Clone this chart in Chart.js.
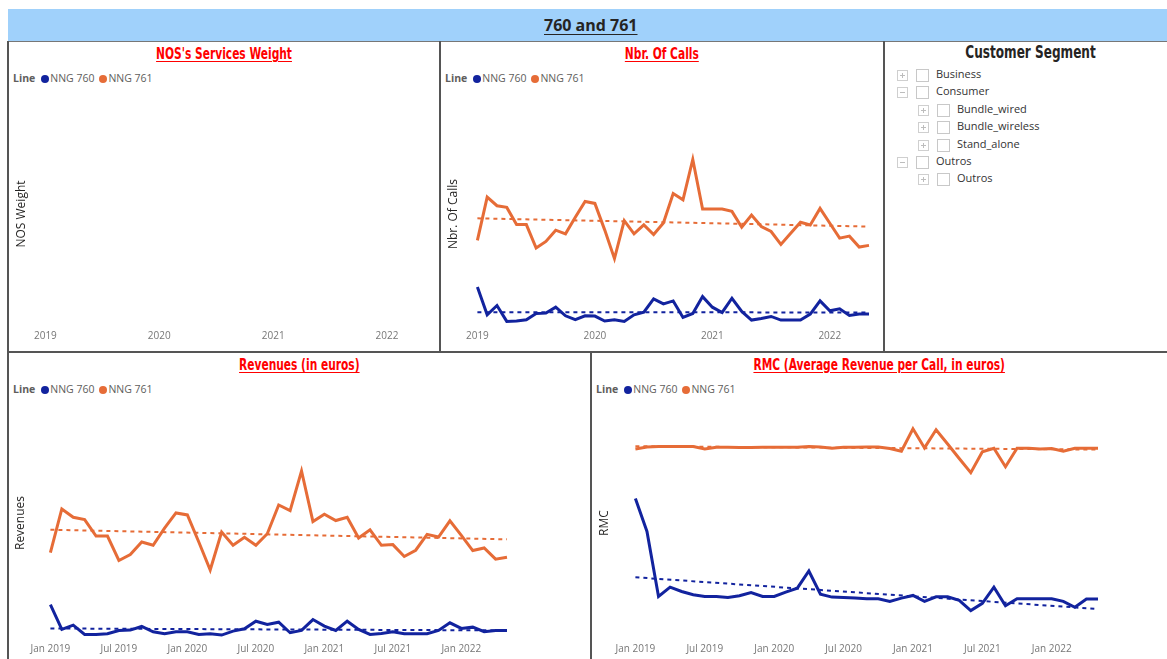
<!DOCTYPE html>
<html>
<head>
<meta charset="utf-8">
<title>760 and 761</title>
<script src="https://cdn.jsdelivr.net/npm/chart.js@4.4.1/dist/chart.umd.min.js"></script>
<style>
  body { margin: 0; width: 1167px; height: 659px; overflow: hidden; background: #fff; position: relative;
         font-family: 'Segoe UI', 'Open Sans', sans-serif; }
  .bar { position: absolute; left: 8px; top: 9px; width: 1159px; height: 32px; background: #a0d1fb; }
  .bar span { position: absolute; left: 536px; top: 5px; font-weight: bold; font-size: 16px; color: #252423;
              text-decoration: underline; text-underline-offset: 3px; }
  .ln { position: absolute; background: #555; }
  .ttl { position: absolute; text-align: center; white-space: nowrap; }
  .ttl span, .seg-ttl span { display: inline-block; transform: scaleX(0.79); transform-origin: 50% 50%;
         font: bold 15px 'Liberation Sans Narrow', 'DejaVu Sans Condensed', sans-serif; }
  .ttl span { color: #ff0000; text-decoration: underline; text-underline-offset: 2px; }
  .leg { position: absolute; font-size: 10.5px; color: #605e5c; white-space: nowrap; line-height: 14px; }
  .leg b { margin-right: 6px; }
  .dot { display: inline-block; width: 8px; height: 8px; border-radius: 50%; margin-right: 1px; vertical-align: -0.5px; }
  .item + .dot { margin-left: 5px; }
  .box { position: absolute; }
  .seg-ttl { position: absolute; left: 884px; width: 293px; top: 41px; text-align: center; }
  .seg-ttl span { font-size: 17px; color: #252423; }
  .row { position: absolute; height: 14px; font-size: 11px; color: #333; line-height: 14px; }
  .exp { position: absolute; top: 2px; width: 9px; height: 9px; border: 1px solid #cfcfcf; }
  .exp:before { content: ''; position: absolute; left: 2px; top: 4px; width: 5px; height: 1px; background: #bdbdbd; }
  .exp.plus:after { content: ''; position: absolute; left: 4px; top: 2px; width: 1px; height: 5px; background: #bdbdbd; }
  .chk { position: absolute; top: 1px; width: 11px; height: 11px; border: 1px solid #c8c8c8; }
  .row span { position: absolute; top: -1px; }
</style>
</head>
<body>
<div class="bar"><span>760 and 761</span></div>

<!-- panel borders -->
<div class="ln" style="left:7px;top:41px;width:1160px;height:1px;background:#777"></div>
<div class="ln" style="left:7px;top:351px;width:1160px;height:2px"></div>
<div class="ln" style="left:7px;top:41px;width:2px;height:618px"></div>
<div class="ln" style="left:439px;top:41px;width:2px;height:311px"></div>
<div class="ln" style="left:883px;top:41px;width:2px;height:311px"></div>
<div class="ln" style="left:590px;top:352px;width:2px;height:307px"></div>

<div class="ttl" style="left:8px;width:432px;top:42px"><span>NOS's Services Weight</span></div>
<div class="ttl" style="left:440px;width:444px;top:42px"><span>Nbr. Of Calls</span></div>
<div class="ttl" style="left:8px;width:583px;top:353px"><span>Revenues (in euros)</span></div>
<div class="ttl" style="left:591px;width:576px;top:353px"><span>RMC (Average Revenue per Call, in euros)</span></div>

<div class="leg" style="left:13px;top:71px"></div>
<div class="leg" style="left:445px;top:71px"></div>
<div class="leg" style="left:13px;top:382px"></div>
<div class="leg" style="left:596px;top:382px"></div>

<div class="box" style="left:8px;top:100px;width:432px;height:251px"><canvas id="nosChart"></canvas></div>
<div class="box" style="left:440px;top:100px;width:444px;height:251px"><canvas id="callsChart"></canvas></div>
<div class="box" style="left:8px;top:405px;width:583px;height:254px"><canvas id="revChart"></canvas></div>
<div class="box" style="left:591px;top:405px;width:576px;height:254px"><canvas id="rmcChart"></canvas></div>

<div class="seg-ttl"><span>Customer Segment</span></div>
<div id="slicer"></div>

<script>
// maanden jan 2019 - mei 2022
const MONTHS = [
  'Jan 2019', 'Feb 2019', 'Mar 2019', 'Apr 2019', 'May 2019', 'Jun 2019', 'Jul 2019', 'Aug 2019', 'Sep 2019', 'Oct 2019', 'Nov 2019', 'Dec 2019',
  'Jan 2020', 'Feb 2020', 'Mar 2020', 'Apr 2020', 'May 2020', 'Jun 2020', 'Jul 2020', 'Aug 2020', 'Sep 2020', 'Oct 2020', 'Nov 2020', 'Dec 2020',
  'Jan 2021', 'Feb 2021', 'Mar 2021', 'Apr 2021', 'May 2021', 'Jun 2021', 'Jul 2021', 'Aug 2021', 'Sep 2021', 'Oct 2021', 'Nov 2021', 'Dec 2021',
  'Jan 2022', 'Feb 2022', 'Mar 2022', 'Apr 2022', 'May 2022'
];
const YEAR_TICKS = ['2019', '2020', '2021', '2022'];
const HALF_TICKS = ['Jan 2019', 'Jul 2019', 'Jan 2020', 'Jul 2020', 'Jan 2021', 'Jul 2021', 'Jan 2022'];
const SERIES = ['NNG 760', 'NNG 761'];

// NOS weight: geen gegevens
const NOS_760 = [];
const NOS_761 = [];

const CALLS_760 = [620, 200, 340, 100, 105, 125, 220, 225, 315, 185, 125, 185, 180, 105, 125, 100, 200, 240, 440, 365,
  410, 160, 220, 475, 315, 235, 450, 250, 120, 145, 175, 120, 120, 120, 210, 410, 260, 290, 190, 210, 210];
const CALLS_761 = [1325, 1980, 1850, 1825, 1565, 1565, 1210, 1310, 1480, 1425, 1675, 1915, 1885, 1485, 1050, 1625, 1425, 1560, 1415, 1590,
  2035, 1940, 2550, 1800, 1800, 1800, 1765, 1525, 1710, 1535, 1460, 1265, 1435, 1600, 1560, 1810, 1585, 1360, 1390, 1225, 1250];
const CALLS_TREND_760 = [240, 235]; // begin, eind
const CALLS_TREND_761 = [1660, 1535];

const REV_760 = [1100, 350, 480, 200, 200, 220, 320, 330, 440, 280, 220, 280, 280, 200, 220, 180, 300, 370, 600, 500,
  570, 250, 320, 650, 450, 320, 600, 350, 200, 230, 280, 220, 220, 220, 320, 550, 380, 420, 280, 320, 320];
const REV_761 = [2680, 4000, 3750, 3680, 3180, 3180, 2440, 2620, 3000, 2900, 3420, 3880, 3820, 3000, 2150, 3300, 2900, 3140, 2900, 3250,
  4120, 3950, 5150, 3620, 3840, 3650, 3750, 3120, 3370, 2900, 2920, 2560, 2750, 3230, 3150, 3640, 3200, 2740, 2820, 2480, 2540];
const REV_TREND_760 = [380, 320];
const REV_TREND_761 = [3370, 3080];

const RMC_760 = [4.32, 3.32, 1.35, 1.63, 1.50, 1.40, 1.35, 1.35, 1.32, 1.37, 1.47, 1.35, 1.35, 1.48, 1.60, 2.12, 1.42, 1.33, 1.32, 1.30,
  1.28, 1.28, 1.20, 1.30, 1.38, 1.20, 1.34, 1.34, 1.23, 0.92, 1.14, 1.63, 1.07, 1.28, 1.28, 1.28, 1.28, 1.20, 1.02, 1.27, 1.27];
const RMC_761 = [5.82, 5.88, 5.89, 5.89, 5.89, 5.89, 5.82, 5.87, 5.87, 5.86, 5.86, 5.87, 5.87, 5.87, 5.87, 5.89, 5.88, 5.84, 5.87, 5.87,
  5.88, 5.88, 5.83, 5.75, 6.43, 5.85, 6.40, 5.97, 5.53, 5.10, 5.73, 5.84, 5.28, 5.84, 5.84, 5.82, 5.83, 5.75, 5.84, 5.84, 5.84];
const RMC_TREND_760 = [1.93, 0.97];
const RMC_TREND_761 = [5.90, 5.80];

const SEGMENTS = [
  { text: 'Business', level: 0, open: false },
  { text: 'Consumer', level: 0, open: true },
  { text: 'Bundle_wired', level: 1, open: false },
  { text: 'Bundle_wireless', level: 1, open: false },
  { text: 'Stand_alone', level: 1, open: false },
  { text: 'Outros', level: 0, open: true },
  { text: 'Outros', level: 1, open: false }
];

const BLUE = '#12239e';
const ORANGE = '#e66c37';
const COLORS = [BLUE, ORANGE];

Chart.defaults.font.family = "'Segoe UI', 'Open Sans', sans-serif";

// legenda's
document.querySelectorAll('.leg').forEach(el => {
  let html = '<b>Line</b>';
  SERIES.forEach((s, i) => {
    html += '<span class="dot" style="background:' + COLORS[i] + '"></span><span class="item">' + s + '</span>';
  });
  el.innerHTML = html;
});

// slicer
const slicer = document.getElementById('slicer');
SEGMENTS.forEach((s, i) => {
  const x = s.level * 21;
  const row = document.createElement('div');
  row.className = 'row';
  row.style.top = (68 + i * 17.4) + 'px';
  row.style.left = (897 + x) + 'px';
  row.innerHTML = '<div class="exp' + (s.open ? '' : ' plus') + '" style="left:0"></div>' +
    '<div class="chk" style="left:19px"></div><span style="left:39px">' + s.text + '</span>';
  slicer.appendChild(row);
});

function trend(vals) {
  return [{ x: MONTHS[0], y: vals[0] }, { x: MONTHS[MONTHS.length - 1], y: vals[1] }];
}

function lineSet(label, data, color) {
  return { label: label, data: data, borderColor: color, backgroundColor: color, borderWidth: 3 };
}

function trendSet(label, vals, color) {
  return { label: label + ' trend', data: trend(vals), borderColor: color, borderWidth: 2, borderDash: [4, 4] };
}

function makeChart(id, datasets, o) {
  new Chart(document.getElementById(id), {
    type: 'line',
    data: { labels: MONTHS, datasets: datasets },
    options: {
      responsive: true,
      maintainAspectRatio: false,
      animation: false,
      layout: { padding: { left: 0, top: 0, right: o.padRight, bottom: o.padBottom } },
      elements: { point: { radius: 0 }, line: { tension: 0 } },
      plugins: { legend: { display: false }, title: { display: false }, tooltip: { enabled: false } },
      scales: {
        x: {
          grid: { display: false, drawTicks: false },
          border: { display: false },
          ticks: {
            autoSkip: false, maxRotation: 0, minRotation: 0, padding: 2,
            color: '#777', font: { size: 10 },
            callback: function (value) { return o.tick(MONTHS[value]); }
          }
        },
        y: {
          min: o.min, max: o.max,
          grid: { display: false, drawTicks: false },
          border: { display: false },
          ticks: { display: false },
          title: {
            display: true, text: o.title, color: '#252423', font: { size: 12 },
            padding: { top: o.titleTop, bottom: o.titleBottom }
          }
        }
      }
    }
  });
}

function yearTick(m) {
  const y = m.slice(4);
  return (m.startsWith('Jan') && YEAR_TICKS.includes(y)) ? y : '';
}
function halfTick(m) {
  return HALF_TICKS.includes(m) ? m : '';
}

makeChart('nosChart', [lineSet(SERIES[0], NOS_760, BLUE), lineSet(SERIES[1], NOS_761, ORANGE)],
  { title: 'NOS Weight', min: 0, max: 1, padRight: 15, padBottom: 7, titleTop: 6, titleBottom: 17, tick: yearTick });

makeChart('callsChart', [
  lineSet(SERIES[0], CALLS_760, BLUE), lineSet(SERIES[1], CALLS_761, ORANGE),
  trendSet(SERIES[0], CALLS_TREND_760, BLUE), trendSet(SERIES[1], CALLS_TREND_761, ORANGE)
], { title: 'Nbr. Of Calls', min: 0, max: 3450, padRight: 15, padBottom: 7, titleTop: 6, titleBottom: 17, tick: yearTick });

makeChart('revChart', [
  lineSet(SERIES[0], REV_760, BLUE), lineSet(SERIES[1], REV_761, ORANGE),
  trendSet(SERIES[0], REV_TREND_760, BLUE), trendSet(SERIES[1], REV_TREND_761, ORANGE)
], { title: 'Revenues', min: 0, max: 7150, padRight: 84, padBottom: 2, titleTop: 5, titleBottom: 23, tick: halfTick });

makeChart('rmcChart', [
  lineSet(SERIES[0], RMC_760, BLUE), lineSet(SERIES[1], RMC_761, ORANGE),
  trendSet(SERIES[0], RMC_TREND_760, BLUE), trendSet(SERIES[1], RMC_TREND_761, ORANGE)
], { title: 'RMC', min: 0, max: 7.15, padRight: 69, padBottom: 2, titleTop: 6, titleBottom: 24, tick: halfTick });
</script>
</body>
</html>
